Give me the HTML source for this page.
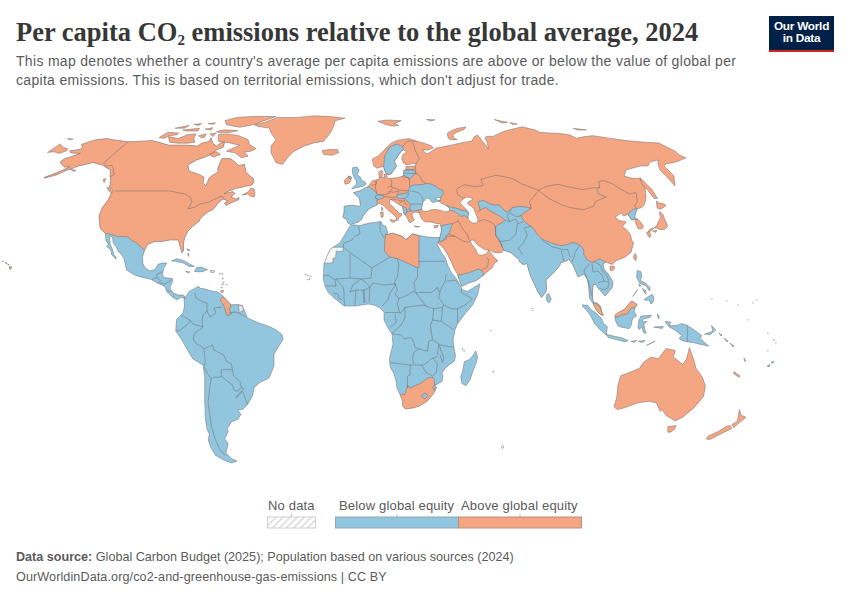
<!DOCTYPE html>
<html><head><meta charset="utf-8">
<style>
html,body{margin:0;padding:0;background:#fff;width:850px;height:600px;overflow:hidden;position:relative}
.t{position:absolute;white-space:nowrap}
#title{left:16px;top:14px;font-family:"Liberation Serif",serif;font-weight:bold;font-size:26.5px;color:#373737;line-height:36px}
#title sub{font-size:15px;vertical-align:baseline;position:relative;top:4px}
.sub{font-family:"Liberation Sans",sans-serif;font-size:14px;letter-spacing:0.31px;color:#5b5b5b;line-height:19px}
#logo{position:absolute;left:769px;top:16px;width:65px;height:35.6px;background:#002147;border-bottom:2.6px solid #ce261e;box-sizing:border-box;color:#fff;font-family:"Liberation Sans",sans-serif;font-weight:bold;font-size:11.8px;line-height:12.3px;text-align:center;padding-top:4.2px;letter-spacing:-0.25px}
.leg{font-family:"Liberation Sans",sans-serif;font-size:13px;letter-spacing:0.17px;color:#5b5b5b}
.foot{font-family:"Liberation Sans",sans-serif;font-size:12.6px;color:#5b5b5b}
svg{position:absolute;left:0;top:0}
.cs{stroke:#6e6e6e;stroke-width:0.5;stroke-linejoin:round}
.bd{stroke:#6e6e6e;stroke-width:0.5;stroke-linejoin:round}
path.cs[fill="none"]{}
</style></head><body>
<div id="title" class="t">Per capita CO<sub>2</sub> emissions relative to the global average, 2024</div>
<div class="t sub" style="left:16px;top:52px">This map denotes whether a country's average per capita emissions are above or below the value of global per</div>
<div class="t sub" style="left:16px;top:71px">capita emissions. This is based on territorial emissions, which don't adjust for trade.</div>
<div id="logo">Our World<br>in Data</div>

<svg width="850" height="600" viewBox="0 0 850 600">
<defs>
<pattern id="hatch" width="5" height="5" patternUnits="userSpaceOnUse" patternTransform="rotate(45)">
<rect width="5" height="5" fill="#fff"/><rect width="1.6" height="5" fill="#dcdcdc"/>
</pattern>
<pattern id="hatch2" width="3" height="3" patternUnits="userSpaceOnUse" patternTransform="rotate(45)"><rect width="3" height="3" fill="#fbfbfb"/><rect width="1" height="3" fill="#ececec"/></pattern>
</defs>
<g id="map">
<!--MAP-->
<clipPath id="c0"><path d="M44.0,177.4 57.0,172.6 66.0,168.6 69.8,166.6 64.5,167.2 61.3,164.0 60.2,161.9 64.5,158.7 72.9,156.0 80.4,153.4 70.8,152.9 69.8,150.8 80.4,149.2 82.5,147.1 81.4,144.4 90.9,141.2 97.3,139.6 106.8,138.6 112.1,139.6 128.0,141.8 145.0,140.9 151.6,140.4 159.1,142.3 168.5,145.1 177.9,145.1 186.4,145.1 197.7,146.1 201.5,143.2 209.0,141.4 210.9,137.6 212.8,143.2 216.5,146.1 220.3,143.2 224.7,141.6 223.3,147.3 216.2,150.1 213.4,153.0 205.0,157.2 196.5,160.0 188.0,165.0 189.0,171.0 198.0,174.0 204.0,177.0 203.0,183.0 206.0,186.0 209.0,178.0 213.0,175.0 218.0,172.0 217.7,168.5 220.5,161.4 221.9,158.6 230.4,158.6 236.0,162.8 238.8,165.6 244.5,164.2 246.0,172.0 250.0,176.0 253.0,178.0 254.0,181.5 252.0,185.0 245.0,186.5 236.0,188.5 229.0,191.0 224.0,193.5 227.0,193.0 233.0,191.5 235.0,193.5 231.0,197.0 236.0,199.0 239.0,197.5 239.0,199.5 232.0,202.5 226.0,205.5 224.5,203.0 228.0,201.0 223.0,199.0 219.0,202.0 216.0,206.0 213.0,209.5 208.0,212.0 204.0,215.0 200.0,219.0 199.5,221.0 192.5,226.5 188.0,231.0 185.0,237.0 183.5,243.0 183.5,250.5 182.0,253.0 179.8,246.0 178.3,240.0 176.0,240.0 170.0,240.0 162.5,241.5 155.0,241.5 147.5,244.5 144.5,250.5 142.7,256.5 142.7,263.1 144.9,267.5 149.3,270.8 154.8,269.7 158.1,264.2 162.5,263.1 166.9,263.1 163.6,268.6 162.5,274.1 163.6,277.4 172.4,278.5 172.4,281.8 170.2,286.2 170.2,289.5 173.5,292.8 177.9,295.0 183.4,295.0 185.6,297.2 188.9,291.7 194.4,288.4 198.8,286.2 199.9,288.4 203.2,288.4 209.8,290.6 215.0,291.7 218.0,292.0 222.0,295.0 231.0,304.8 237.6,304.5 242.5,305.6 244.0,309.7 247.5,318.0 259.0,323.0 268.0,326.0 275.6,329.5 282.0,334.5 283.0,339.4 278.9,346.0 274.0,354.3 274.0,365.8 272.4,370.0 269.0,378.0 259.0,383.0 254.0,388.0 252.5,396.0 247.6,404.6 242.6,409.5 237.7,409.5 241.0,414.5 237.7,419.4 231.0,422.0 229.4,425.9 227.0,428.2 228.2,431.8 224.7,438.8 228.2,443.5 225.9,453.0 231.8,458.8 237.0,461.0 231.8,463.0 224.7,460.6 215.3,455.3 210.6,447.0 208.2,440.0 209.4,434.0 207.0,429.4 205.5,420.0 204.7,401.0 204.7,376.5 203.0,365.0 193.0,359.0 188.0,351.0 181.5,339.4 175.7,331.0 176.5,319.6 183.0,313.0 184.5,306.0 184.0,298.3 181.2,297.2 176.8,300.0 171.3,296.1 166.9,291.7 164.7,286.2 157.0,282.9 151.5,279.6 142.7,277.4 135.0,275.2 126.5,270.0 125.2,264.0 124.0,258.6 121.0,253.8 118.0,251.4 116.8,247.8 113.2,243.0 112.6,237.0 110.2,236.4 109.6,238.8 110.2,244.2 112.6,249.6 113.8,254.4 116.2,257.4 115.6,259.2 114.4,257.4 111.4,254.4 111.4,251.4 109.6,249.0 106.6,246.6 108.4,244.2 106.0,240.6 105.4,233.4 101.0,229.5 100.0,228.0 99.0,216.0 102.0,208.0 108.0,200.0 109.3,197.3 111.3,193.3 113.0,191.0 111.0,188.0 109.3,186.7 110.0,184.7 110.7,180.0 110.0,175.3 110.7,171.3 109.3,169.3 105.3,167.3 103.3,165.3 98.0,164.0 93.3,162.7 90.0,163.3 83.5,165.0 78.2,166.1 70.5,169.2 66.0,170.6 57.0,174.8 44.5,178.2Z"/></clipPath>
<path d="M44.0,177.4 57.0,172.6 66.0,168.6 69.8,166.6 64.5,167.2 61.3,164.0 60.2,161.9 64.5,158.7 72.9,156.0 80.4,153.4 70.8,152.9 69.8,150.8 80.4,149.2 82.5,147.1 81.4,144.4 90.9,141.2 97.3,139.6 106.8,138.6 112.1,139.6 128.0,141.8 145.0,140.9 151.6,140.4 159.1,142.3 168.5,145.1 177.9,145.1 186.4,145.1 197.7,146.1 201.5,143.2 209.0,141.4 210.9,137.6 212.8,143.2 216.5,146.1 220.3,143.2 224.7,141.6 223.3,147.3 216.2,150.1 213.4,153.0 205.0,157.2 196.5,160.0 188.0,165.0 189.0,171.0 198.0,174.0 204.0,177.0 203.0,183.0 206.0,186.0 209.0,178.0 213.0,175.0 218.0,172.0 217.7,168.5 220.5,161.4 221.9,158.6 230.4,158.6 236.0,162.8 238.8,165.6 244.5,164.2 246.0,172.0 250.0,176.0 253.0,178.0 254.0,181.5 252.0,185.0 245.0,186.5 236.0,188.5 229.0,191.0 224.0,193.5 227.0,193.0 233.0,191.5 235.0,193.5 231.0,197.0 236.0,199.0 239.0,197.5 239.0,199.5 232.0,202.5 226.0,205.5 224.5,203.0 228.0,201.0 223.0,199.0 219.0,202.0 216.0,206.0 213.0,209.5 208.0,212.0 204.0,215.0 200.0,219.0 199.5,221.0 192.5,226.5 188.0,231.0 185.0,237.0 183.5,243.0 183.5,250.5 182.0,253.0 179.8,246.0 178.3,240.0 176.0,240.0 170.0,240.0 162.5,241.5 155.0,241.5 147.5,244.5 144.5,250.5 142.7,256.5 142.7,263.1 144.9,267.5 149.3,270.8 154.8,269.7 158.1,264.2 162.5,263.1 166.9,263.1 163.6,268.6 162.5,274.1 163.6,277.4 172.4,278.5 172.4,281.8 170.2,286.2 170.2,289.5 173.5,292.8 177.9,295.0 183.4,295.0 185.6,297.2 188.9,291.7 194.4,288.4 198.8,286.2 199.9,288.4 203.2,288.4 209.8,290.6 215.0,291.7 218.0,292.0 222.0,295.0 231.0,304.8 237.6,304.5 242.5,305.6 244.0,309.7 247.5,318.0 259.0,323.0 268.0,326.0 275.6,329.5 282.0,334.5 283.0,339.4 278.9,346.0 274.0,354.3 274.0,365.8 272.4,370.0 269.0,378.0 259.0,383.0 254.0,388.0 252.5,396.0 247.6,404.6 242.6,409.5 237.7,409.5 241.0,414.5 237.7,419.4 231.0,422.0 229.4,425.9 227.0,428.2 228.2,431.8 224.7,438.8 228.2,443.5 225.9,453.0 231.8,458.8 237.0,461.0 231.8,463.0 224.7,460.6 215.3,455.3 210.6,447.0 208.2,440.0 209.4,434.0 207.0,429.4 205.5,420.0 204.7,401.0 204.7,376.5 203.0,365.0 193.0,359.0 188.0,351.0 181.5,339.4 175.7,331.0 176.5,319.6 183.0,313.0 184.5,306.0 184.0,298.3 181.2,297.2 176.8,300.0 171.3,296.1 166.9,291.7 164.7,286.2 157.0,282.9 151.5,279.6 142.7,277.4 135.0,275.2 126.5,270.0 125.2,264.0 124.0,258.6 121.0,253.8 118.0,251.4 116.8,247.8 113.2,243.0 112.6,237.0 110.2,236.4 109.6,238.8 110.2,244.2 112.6,249.6 113.8,254.4 116.2,257.4 115.6,259.2 114.4,257.4 111.4,254.4 111.4,251.4 109.6,249.0 106.6,246.6 108.4,244.2 106.0,240.6 105.4,233.4 101.0,229.5 100.0,228.0 99.0,216.0 102.0,208.0 108.0,200.0 109.3,197.3 111.3,193.3 113.0,191.0 111.0,188.0 109.3,186.7 110.0,184.7 110.7,180.0 110.0,175.3 110.7,171.3 109.3,169.3 105.3,167.3 103.3,165.3 98.0,164.0 93.3,162.7 90.0,163.3 83.5,165.0 78.2,166.1 70.5,169.2 66.0,170.6 57.0,174.8 44.5,178.2Z" fill="#92c5de"/>
<g clip-path="url(#c0)"><path d="M0.0,100.0 300.0,100.0 300.0,260.0 170.0,258.0 150.0,252.0 144.5,250.5 140.0,246.0 135.5,242.3 131.8,240.6 128.2,237.0 124.0,236.4 118.0,236.7 113.8,235.2 109.6,234.0 105.4,233.4 60.0,233.0 0.0,233.0Z" fill="#f4a582" class="bd"/><path d="M222.7,297.0 227.7,298.0 231.0,304.8 229.3,309.7 231.8,313.8 226.9,315.5 225.0,309.0 222.7,304.0 220.0,300.0Z" fill="#f4a582" class="bd"/><path d="M238.4,304.8 242.5,305.6 244.0,309.7 239.2,313.0Z" fill="#e6e6e6" class="bd"/><path d="M128.0,141.8 103.6,162.9" fill="none" class="bd"/><path d="M104.0,163.3 106.0,166.0 112.0,165.3 113.3,168.7 113.3,172.7 114.7,174.0 111.3,176.0 110.5,177.0" fill="none" class="bd"/><path d="M114.5,191.0 170.0,191.0 180.0,193.0 185.0,194.0 190.0,197.0 192.0,202.0 188.0,209.0 195.0,207.0 200.0,204.0 209.0,202.0 217.0,198.0 222.0,196.0 224.0,198.0 224.0,202.0" fill="none" class="bd"/><path d="M151.5,279.6 157.0,277.4 157.0,274.1 162.5,271.9" fill="none" class="bd"/><path d="M157.0,277.4 160.3,280.7 159.2,282.9" fill="none" class="bd"/><path d="M160.3,282.9 164.7,284.0 172.4,279.6" fill="none" class="bd"/><path d="M165.8,290.6 171.3,291.7" fill="none" class="bd"/><path d="M173.5,295.0 173.5,298.3" fill="none" class="bd"/><path d="M184.0,296.0 185.0,299.0" fill="none" class="bd"/><path d="M195.0,293.0 196.0,298.0 203.0,302.0 207.0,303.0 207.0,311.0 210.0,317.0 216.0,313.0 214.0,308.0 222.0,307.0" fill="none" class="bd"/><path d="M207.0,311.0 203.0,315.0 202.0,321.0 203.0,327.0 201.3,328.8 195.0,332.5 193.1,338.8 196.3,343.8 201.3,346.3 203.8,348.8" fill="none" class="bd"/><path d="M181.0,315.0 190.0,320.0 193.0,324.0 200.0,326.0 203.0,327.0" fill="none" class="bd"/><path d="M190.0,320.0 189.0,323.0 183.0,328.0 179.0,331.0 176.0,330.0" fill="none" class="bd"/><path d="M229.0,313.0 235.0,312.0 239.0,313.0 246.0,317.0" fill="none" class="bd"/><path d="M203.8,348.8 205.0,357.5 205.0,363.8 203.8,366.3 207.5,373.8 211.3,378.8" fill="none" class="bd"/><path d="M203.8,348.8 212.5,345.0 213.8,350.0 223.8,355.0 226.3,361.3 231.3,363.8 232.5,370.0" fill="none" class="bd"/><path d="M211.3,378.8 215.0,376.9 218.8,377.5 221.3,376.3 221.3,370.0 227.5,369.4 232.5,370.0" fill="none" class="bd"/><path d="M232.5,370.0 233.8,376.3 240.0,381.3 241.3,387.5 237.5,391.3 233.8,390.0" fill="none" class="bd"/><path d="M221.3,376.3 227.5,381.3 232.5,385.0 233.8,390.0" fill="none" class="bd"/><path d="M211.3,378.8 210.0,386.3 208.8,395.0 208.0,403.0 209.6,412.8 211.3,426.0 214.6,437.6 219.5,449.0 226.0,455.8" fill="none" class="bd"/><path d="M241.3,387.5 243.8,388.8 237.5,395.0 236.0,398.0" fill="none" class="bd"/><path d="M236.0,398.0 242.6,391.4 247.6,404.6" fill="none" class="bd"/></g>
<path d="M44.0,177.4 57.0,172.6 66.0,168.6 69.8,166.6 64.5,167.2 61.3,164.0 60.2,161.9 64.5,158.7 72.9,156.0 80.4,153.4 70.8,152.9 69.8,150.8 80.4,149.2 82.5,147.1 81.4,144.4 90.9,141.2 97.3,139.6 106.8,138.6 112.1,139.6 128.0,141.8 145.0,140.9 151.6,140.4 159.1,142.3 168.5,145.1 177.9,145.1 186.4,145.1 197.7,146.1 201.5,143.2 209.0,141.4 210.9,137.6 212.8,143.2 216.5,146.1 220.3,143.2 224.7,141.6 223.3,147.3 216.2,150.1 213.4,153.0 205.0,157.2 196.5,160.0 188.0,165.0 189.0,171.0 198.0,174.0 204.0,177.0 203.0,183.0 206.0,186.0 209.0,178.0 213.0,175.0 218.0,172.0 217.7,168.5 220.5,161.4 221.9,158.6 230.4,158.6 236.0,162.8 238.8,165.6 244.5,164.2 246.0,172.0 250.0,176.0 253.0,178.0 254.0,181.5 252.0,185.0 245.0,186.5 236.0,188.5 229.0,191.0 224.0,193.5 227.0,193.0 233.0,191.5 235.0,193.5 231.0,197.0 236.0,199.0 239.0,197.5 239.0,199.5 232.0,202.5 226.0,205.5 224.5,203.0 228.0,201.0 223.0,199.0 219.0,202.0 216.0,206.0 213.0,209.5 208.0,212.0 204.0,215.0 200.0,219.0 199.5,221.0 192.5,226.5 188.0,231.0 185.0,237.0 183.5,243.0 183.5,250.5 182.0,253.0 179.8,246.0 178.3,240.0 176.0,240.0 170.0,240.0 162.5,241.5 155.0,241.5 147.5,244.5 144.5,250.5 142.7,256.5 142.7,263.1 144.9,267.5 149.3,270.8 154.8,269.7 158.1,264.2 162.5,263.1 166.9,263.1 163.6,268.6 162.5,274.1 163.6,277.4 172.4,278.5 172.4,281.8 170.2,286.2 170.2,289.5 173.5,292.8 177.9,295.0 183.4,295.0 185.6,297.2 188.9,291.7 194.4,288.4 198.8,286.2 199.9,288.4 203.2,288.4 209.8,290.6 215.0,291.7 218.0,292.0 222.0,295.0 231.0,304.8 237.6,304.5 242.5,305.6 244.0,309.7 247.5,318.0 259.0,323.0 268.0,326.0 275.6,329.5 282.0,334.5 283.0,339.4 278.9,346.0 274.0,354.3 274.0,365.8 272.4,370.0 269.0,378.0 259.0,383.0 254.0,388.0 252.5,396.0 247.6,404.6 242.6,409.5 237.7,409.5 241.0,414.5 237.7,419.4 231.0,422.0 229.4,425.9 227.0,428.2 228.2,431.8 224.7,438.8 228.2,443.5 225.9,453.0 231.8,458.8 237.0,461.0 231.8,463.0 224.7,460.6 215.3,455.3 210.6,447.0 208.2,440.0 209.4,434.0 207.0,429.4 205.5,420.0 204.7,401.0 204.7,376.5 203.0,365.0 193.0,359.0 188.0,351.0 181.5,339.4 175.7,331.0 176.5,319.6 183.0,313.0 184.5,306.0 184.0,298.3 181.2,297.2 176.8,300.0 171.3,296.1 166.9,291.7 164.7,286.2 157.0,282.9 151.5,279.6 142.7,277.4 135.0,275.2 126.5,270.0 125.2,264.0 124.0,258.6 121.0,253.8 118.0,251.4 116.8,247.8 113.2,243.0 112.6,237.0 110.2,236.4 109.6,238.8 110.2,244.2 112.6,249.6 113.8,254.4 116.2,257.4 115.6,259.2 114.4,257.4 111.4,254.4 111.4,251.4 109.6,249.0 106.6,246.6 108.4,244.2 106.0,240.6 105.4,233.4 101.0,229.5 100.0,228.0 99.0,216.0 102.0,208.0 108.0,200.0 109.3,197.3 111.3,193.3 113.0,191.0 111.0,188.0 109.3,186.7 110.0,184.7 110.7,180.0 110.0,175.3 110.7,171.3 109.3,169.3 105.3,167.3 103.3,165.3 98.0,164.0 93.3,162.7 90.0,163.3 83.5,165.0 78.2,166.1 70.5,169.2 66.0,170.6 57.0,174.8 44.5,178.2Z" fill="none" class="cs"/>
<clipPath id="c1"><path d="M350.4,224.8 347.7,222.6 346.6,219.5 342.9,217.4 344.0,212.1 344.0,207.8 344.0,206.2 350.9,205.2 359.4,206.2 360.4,205.2 359.4,198.3 354.6,194.1 353.5,192.5 359.4,190.9 365.7,187.7 368.9,186.1 370.0,184.0 372.2,180.9 377.3,179.6 379.5,178.3 379.0,175.0 378.8,172.0 381.5,170.0 383.0,172.5 382.4,174.5 381.8,177.0 385.5,177.7 390.6,178.3 397.0,177.7 402.0,176.4 403.5,174.8 403.5,170.7 406.0,169.0 406.0,166.5 415.2,166.0 416.0,164.0 412.7,163.6 406.8,164.8 403.5,163.2 401.8,159.0 402.7,154.8 406.8,152.0 403.5,149.8 401.0,151.5 396.0,159.0 394.3,161.5 396.8,165.7 393.5,170.7 391.0,174.0 388.5,174.8 386.0,173.2 384.3,169.8 383.5,166.5 380.2,167.3 376.8,168.2 373.5,165.7 372.3,159.0 378.5,155.7 385.2,149.0 391.0,143.2 397.7,140.3 402.7,139.4 408.5,138.6 414.3,140.3 417.7,141.5 424.3,143.2 431.0,145.7 433.5,147.8 428.0,150.0 422.0,150.0 427.0,154.0 432.0,151.0 436.0,148.0 441.5,147.1 453.0,144.7 464.6,142.2 472.0,141.0 474.0,137.0 477.3,135.0 480.0,138.0 484.0,143.0 488.5,149.0 487.0,142.0 485.0,137.5 486.2,136.4 493.0,136.4 504.0,131.2 522.0,126.8 535.4,130.1 539.9,132.4 560.0,133.5 569.9,134.9 576.5,138.2 584.8,136.5 593.0,135.7 609.5,138.2 626.0,140.6 645.8,142.3 659.0,143.0 675.6,151.4 678.9,154.7 686.0,158.0 676.0,162.0 666.0,164.0 664.0,166.0 670.0,172.0 674.0,176.0 675.0,186.0 668.0,178.0 660.0,170.0 658.0,164.0 658.0,160.0 650.0,162.0 648.0,166.0 640.0,166.0 626.0,170.0 624.0,176.0 632.7,178.3 639.3,178.3 645.1,186.5 645.8,195.0 645.8,199.5 644.3,204.8 641.3,207.8 637.5,208.5 636.0,212.3 634.5,217.5 637.5,219.0 641.3,222.8 643.5,226.5 642.0,228.8 638.3,228.8 636.0,224.3 635.3,220.5 634.5,219.8 631.5,219.8 630.0,217.5 627.8,214.5 623.3,216.0 621.8,213.0 618.8,214.5 615.0,217.5 619.5,220.5 623.3,221.3 626.3,222.0 622.5,226.5 625.5,228.8 628.5,231.8 630.8,235.5 631.5,240.0 633.6,242.6 631.0,252.5 624.5,257.5 616.2,260.8 612.0,264.5 606.0,262.0 603.0,264.0 604.0,269.0 609.0,275.0 613.0,282.0 612.0,288.0 605.0,296.0 598.0,288.0 596.0,285.0 593.5,284.0 593.0,287.0 592.5,292.0 592.5,297.5 593.8,302.5 597.5,303.3 600.5,306.3 602.0,312.3 603.5,315.3 601.3,315.3 597.5,311.5 594.5,307.0 593.0,303.5 589.5,298.0 589.0,291.0 588.5,285.0 587.0,279.0 584.0,274.0 578.0,277.0 573.0,265.0 570.0,261.0 569.0,259.0 566.3,261.0 560.8,262.8 559.9,265.6 554.4,272.0 549.8,276.6 546.1,280.2 546.6,289.4 545.2,293.0 541.6,297.6 537.9,292.1 534.2,283.9 530.6,276.6 528.7,270.2 526.9,263.7 523.2,264.7 519.6,261.9 518.7,259.2 515.0,256.4 511.0,252.7 503.8,250.3 501.5,252.7 494.5,252.7 489.8,250.3 485.2,249.8 481.7,247.8 477.0,244.5 473.5,240.0 470.0,240.5 471.2,243.3 473.5,246.8 475.8,249.2 477.0,252.7 479.3,255.0 482.8,255.0 486.3,253.8 488.7,250.3 489.8,251.5 493.3,256.2 498.0,260.8 494.5,263.2 492.2,267.8 486.3,272.5 482.8,276.0 475.8,280.7 468.8,283.0 461.8,286.5 459.5,280.7 457.2,273.7 453.7,267.8 451.3,262.0 447.8,255.0 444.3,249.2 439.7,244.5 438.5,243.3 437.5,238.5 440.0,237.0 441.4,230.5 440.5,223.9 435.8,223.4 432.0,222.0 425.4,222.0 422.6,220.1 420.7,217.3 420.0,215.0 419.5,213.5 421.0,212.5 418.5,212.5 415.0,212.0 413.0,213.5 411.5,214.0 412.5,216.0 413.5,218.5 414.5,220.0 412.5,221.0 410.5,223.0 409.0,222.0 407.5,218.5 406.0,216.0 405.5,215.0 404.0,214.0 403.0,210.0 402.5,206.5 399.5,205.0 395.7,202.4 391.9,199.9 389.3,199.9 390.0,204.0 394.0,208.0 399.0,213.0 402.0,214.0 401.0,216.0 399.0,217.0 398.0,220.0 396.0,221.0 396.0,217.0 393.0,214.0 388.0,210.0 383.0,205.0 378.0,203.0 377.0,205.0 373.1,206.8 368.9,208.9 366.8,211.5 363.6,215.2 361.5,219.5 358.3,222.1 353.0,223.7Z"/></clipPath>
<path d="M350.4,224.8 347.7,222.6 346.6,219.5 342.9,217.4 344.0,212.1 344.0,207.8 344.0,206.2 350.9,205.2 359.4,206.2 360.4,205.2 359.4,198.3 354.6,194.1 353.5,192.5 359.4,190.9 365.7,187.7 368.9,186.1 370.0,184.0 372.2,180.9 377.3,179.6 379.5,178.3 379.0,175.0 378.8,172.0 381.5,170.0 383.0,172.5 382.4,174.5 381.8,177.0 385.5,177.7 390.6,178.3 397.0,177.7 402.0,176.4 403.5,174.8 403.5,170.7 406.0,169.0 406.0,166.5 415.2,166.0 416.0,164.0 412.7,163.6 406.8,164.8 403.5,163.2 401.8,159.0 402.7,154.8 406.8,152.0 403.5,149.8 401.0,151.5 396.0,159.0 394.3,161.5 396.8,165.7 393.5,170.7 391.0,174.0 388.5,174.8 386.0,173.2 384.3,169.8 383.5,166.5 380.2,167.3 376.8,168.2 373.5,165.7 372.3,159.0 378.5,155.7 385.2,149.0 391.0,143.2 397.7,140.3 402.7,139.4 408.5,138.6 414.3,140.3 417.7,141.5 424.3,143.2 431.0,145.7 433.5,147.8 428.0,150.0 422.0,150.0 427.0,154.0 432.0,151.0 436.0,148.0 441.5,147.1 453.0,144.7 464.6,142.2 472.0,141.0 474.0,137.0 477.3,135.0 480.0,138.0 484.0,143.0 488.5,149.0 487.0,142.0 485.0,137.5 486.2,136.4 493.0,136.4 504.0,131.2 522.0,126.8 535.4,130.1 539.9,132.4 560.0,133.5 569.9,134.9 576.5,138.2 584.8,136.5 593.0,135.7 609.5,138.2 626.0,140.6 645.8,142.3 659.0,143.0 675.6,151.4 678.9,154.7 686.0,158.0 676.0,162.0 666.0,164.0 664.0,166.0 670.0,172.0 674.0,176.0 675.0,186.0 668.0,178.0 660.0,170.0 658.0,164.0 658.0,160.0 650.0,162.0 648.0,166.0 640.0,166.0 626.0,170.0 624.0,176.0 632.7,178.3 639.3,178.3 645.1,186.5 645.8,195.0 645.8,199.5 644.3,204.8 641.3,207.8 637.5,208.5 636.0,212.3 634.5,217.5 637.5,219.0 641.3,222.8 643.5,226.5 642.0,228.8 638.3,228.8 636.0,224.3 635.3,220.5 634.5,219.8 631.5,219.8 630.0,217.5 627.8,214.5 623.3,216.0 621.8,213.0 618.8,214.5 615.0,217.5 619.5,220.5 623.3,221.3 626.3,222.0 622.5,226.5 625.5,228.8 628.5,231.8 630.8,235.5 631.5,240.0 633.6,242.6 631.0,252.5 624.5,257.5 616.2,260.8 612.0,264.5 606.0,262.0 603.0,264.0 604.0,269.0 609.0,275.0 613.0,282.0 612.0,288.0 605.0,296.0 598.0,288.0 596.0,285.0 593.5,284.0 593.0,287.0 592.5,292.0 592.5,297.5 593.8,302.5 597.5,303.3 600.5,306.3 602.0,312.3 603.5,315.3 601.3,315.3 597.5,311.5 594.5,307.0 593.0,303.5 589.5,298.0 589.0,291.0 588.5,285.0 587.0,279.0 584.0,274.0 578.0,277.0 573.0,265.0 570.0,261.0 569.0,259.0 566.3,261.0 560.8,262.8 559.9,265.6 554.4,272.0 549.8,276.6 546.1,280.2 546.6,289.4 545.2,293.0 541.6,297.6 537.9,292.1 534.2,283.9 530.6,276.6 528.7,270.2 526.9,263.7 523.2,264.7 519.6,261.9 518.7,259.2 515.0,256.4 511.0,252.7 503.8,250.3 501.5,252.7 494.5,252.7 489.8,250.3 485.2,249.8 481.7,247.8 477.0,244.5 473.5,240.0 470.0,240.5 471.2,243.3 473.5,246.8 475.8,249.2 477.0,252.7 479.3,255.0 482.8,255.0 486.3,253.8 488.7,250.3 489.8,251.5 493.3,256.2 498.0,260.8 494.5,263.2 492.2,267.8 486.3,272.5 482.8,276.0 475.8,280.7 468.8,283.0 461.8,286.5 459.5,280.7 457.2,273.7 453.7,267.8 451.3,262.0 447.8,255.0 444.3,249.2 439.7,244.5 438.5,243.3 437.5,238.5 440.0,237.0 441.4,230.5 440.5,223.9 435.8,223.4 432.0,222.0 425.4,222.0 422.6,220.1 420.7,217.3 420.0,215.0 419.5,213.5 421.0,212.5 418.5,212.5 415.0,212.0 413.0,213.5 411.5,214.0 412.5,216.0 413.5,218.5 414.5,220.0 412.5,221.0 410.5,223.0 409.0,222.0 407.5,218.5 406.0,216.0 405.5,215.0 404.0,214.0 403.0,210.0 402.5,206.5 399.5,205.0 395.7,202.4 391.9,199.9 389.3,199.9 390.0,204.0 394.0,208.0 399.0,213.0 402.0,214.0 401.0,216.0 399.0,217.0 398.0,220.0 396.0,221.0 396.0,217.0 393.0,214.0 388.0,210.0 383.0,205.0 378.0,203.0 377.0,205.0 373.1,206.8 368.9,208.9 366.8,211.5 363.6,215.2 361.5,219.5 358.3,222.1 353.0,223.7Z" fill="#f4a582"/>
<g clip-path="url(#c1)"><path d="M330.0,180.0 353.5,192.5 368.9,186.1 368.4,186.0 371.0,188.5 374.1,190.4 376.7,193.5 378.6,194.8 376.0,196.1 376.0,198.6 378.6,199.2 376.7,200.5 377.5,203.0 377.0,205.0 370.0,215.0 355.0,235.0 330.0,235.0Z" fill="#92c5de" class="bd"/><path d="M375.4,196.1 378.6,194.8 383.0,195.4 384.3,197.3 381.7,198.6 378.6,199.2 376.0,198.6Z" fill="#92c5de" class="bd"/><path d="M383.5,166.5 384.8,155.7 390.2,146.5 397.7,144.0 402.7,146.5 403.5,149.8 401.0,151.5 396.0,159.0 394.3,161.5 396.8,165.7 393.5,170.7 391.0,174.0 388.5,174.8 386.0,173.2 384.3,169.8Z" fill="#92c5de" class="bd"/><path d="M409.6,186.6 413.0,185.0 422.0,184.5 426.0,183.5 431.0,184.0 436.0,186.5 439.0,189.0 442.7,190.0 443.3,194.3 441.1,196.4 440.6,198.0 440.6,200.1 439.5,201.2 430.0,206.0 425.0,210.0 421.0,209.5 418.5,210.0 414.0,211.0 410.5,211.0 406.5,212.0 405.5,215.0 404.0,215.5 402.3,210.0 402.3,206.5 405.0,207.0 406.5,209.5 410.0,209.0 410.0,208.0 410.3,204.3 408.0,202.0 405.0,198.7 399.5,198.6 397.0,197.3 397.0,194.8 403.3,193.5 407.7,192.9 408.4,191.0 409.6,186.6Z" fill="#92c5de" class="bd"/><path d="M403.5,170.7 407.7,169.8 414.3,169.8 416.0,173.2 412.7,175.7 410.2,179.0 406.0,176.5 403.5,174.8 400.0,173.0Z" fill="#92c5de" class="bd"/><path d="M447.0,205.5 452.0,207.4 455.2,208.0 458.9,209.0 462.7,210.6 465.9,210.6 469.0,213.3 468.0,217.5 466.4,217.0 464.3,215.4 461.1,216.5 458.4,214.3 455.2,211.7 452.0,210.6 447.0,210.0Z" fill="#92c5de" class="bd"/><path d="M440.8,225.8 452.5,223.5 449.0,234.0 445.5,236.3 446.7,238.7 442.0,241.0 440.8,242.2 439.0,241.0 441.0,230.0Z" fill="#92c5de" class="bd"/><path d="M459.0,274.0 460.7,274.8 470.0,272.5 478.2,269.0 482.8,271.3 484.0,276.0 486.0,285.0 455.0,292.0Z" fill="#92c5de" class="bd"/><path d="M478.2,201.6 483.0,200.2 489.5,203.5 494.0,205.0 498.7,205.0 502.0,207.7 504.0,210.3 507.3,212.3 512.0,207.7 516.7,207.0 519.3,206.3 526.0,207.0 531.3,208.3 526.0,211.7 521.3,215.0 522.0,217.7 523.3,220.3 525.3,222.3 530.0,225.7 534.0,229.0 536.7,233.7 541.3,238.8 550.0,242.5 557.5,245.0 562.5,245.6 567.5,244.4 572.5,242.5 577.5,243.8 581.3,246.3 583.8,250.0 583.8,255.0 587.5,260.0 592.5,262.5 597.5,260.0 600.0,259.0 606.0,262.0 606.0,264.0 620.0,275.0 620.0,320.0 500.0,320.0 503.8,250.3 502.7,248.0 500.3,242.2 495.7,235.2 495.3,227.0 497.3,225.0 501.3,223.0 505.3,220.3 500.0,216.3 495.3,213.7 490.0,211.0 485.8,207.3 480.1,210.1Z" fill="#92c5de" class="bd"/><path d="M627.8,214.5 633.0,209.3 637.5,208.5 642.0,210.0 640.0,216.0 637.5,219.0 634.5,219.8 631.5,219.8 630.0,217.5Z" fill="#92c5de" class="bd"/><path d="M594.7,302.8 599.6,306.1 603.8,315.2 600.4,315.2 595.5,309.4 593.0,304.5Z" fill="#f4a582" class="bd"/><path d="M371.6,185.3 376.7,184.0 376.0,180.9 377.3,179.6" fill="none" class="bd"/><path d="M376.0,180.9 375.4,187.8 376.7,193.5" fill="none" class="bd"/><path d="M378.6,194.8 383.0,194.8 389.3,193.5 389.3,191.6" fill="none" class="bd"/><path d="M387.4,187.2 391.2,186.0 392.5,188.5 389.3,191.6" fill="none" class="bd"/><path d="M390.6,179.0 391.9,182.8 391.2,186.0" fill="none" class="bd"/><path d="M392.5,187.2 398.2,189.7 402.0,190.4 408.4,191.0" fill="none" class="bd"/><path d="M389.3,191.6 393.8,192.3 398.9,191.0" fill="none" class="bd"/><path d="M398.9,191.0 397.0,194.8" fill="none" class="bd"/><path d="M383.0,196.1 389.3,197.3 395.7,197.3 397.0,197.3" fill="none" class="bd"/><path d="M390.6,199.2 394.4,199.2 397.0,199.9" fill="none" class="bd"/><path d="M397.0,199.9 402.0,201.2 404.6,200.5 405.2,203.7 407.7,205.0" fill="none" class="bd"/><path d="M399.0,203.5 402.0,201.2" fill="none" class="bd"/><path d="M402.0,176.4 408.4,177.7 409.6,181.5 409.6,186.6" fill="none" class="bd"/><path d="M379.2,177.1 381.5,177.1" fill="none" class="bd"/><path d="M416.0,173.2 420.0,176.0 422.0,181.0 426.0,183.5" fill="none" class="bd"/><path d="M406.0,169.8 414.3,169.8" fill="none" class="bd"/><path d="M404.0,173.0 412.0,173.5 416.0,173.2" fill="none" class="bd"/><path d="M415.2,166.0 415.5,170.0 416.0,173.2" fill="none" class="bd"/><path d="M412.7,142.3 415.2,150.7 419.3,158.2 416.0,164.0" fill="none" class="bd"/><path d="M402.7,146.5 406.0,142.0 410.0,141.0 414.0,141.0 417.7,141.5" fill="none" class="bd"/><path d="M410.0,191.0 414.0,191.5 418.0,192.5 421.0,195.0 423.0,199.0 423.0,203.0" fill="none" class="bd"/><path d="M408.4,192.9 408.0,196.0 405.2,198.6" fill="none" class="bd"/><path d="M410.3,204.3 415.0,204.0 422.0,204.0" fill="none" class="bd"/><path d="M418.5,210.0 419.5,213.5" fill="none" class="bd"/><path d="M406.5,209.5 406.5,212.0" fill="none" class="bd"/><path d="M410.0,209.0 410.5,211.0" fill="none" class="bd"/><path d="M456.6,189.4 458.5,187.5 464.1,184.7 474.5,186.6 483.0,185.6 481.0,179.3 496.0,175.2 512.5,178.5 522.4,184.3 525.0,185.0 538.5,190.3" fill="none" class="bd"/><path d="M456.6,189.4 457.5,194.1 462.2,197.9 465.0,197.9" fill="none" class="bd"/><path d="M538.5,190.3 534.0,196.3 529.5,201.5 531.0,207.5 529.0,208.2" fill="none" class="bd"/><path d="M538.5,190.3 546.0,186.5 558.0,184.3 567.0,186.5 582.0,189.5 592.5,188.0 600.0,187.3 598.5,182.0 603.0,180.5 612.0,183.5 621.0,189.5 630.0,194.0 636.0,192.5 637.5,201.5 634.5,206.0 636.0,208.0" fill="none" class="bd"/><path d="M538.5,190.3 549.0,198.5 561.0,204.5 570.0,207.5 583.5,209.8 594.0,206.0 595.5,201.5 606.0,197.0 598.5,194.0 597.0,189.5 600.0,187.3" fill="none" class="bd"/><path d="M477.3,212.0 480.1,210.1" fill="none" class="bd"/><path d="M478.2,221.4 483.9,219.5 490.0,221.7 494.0,224.3 495.3,227.0" fill="none" class="bd"/><path d="M505.3,220.3 510.0,221.7 515.3,219.0 517.3,221.7 518.7,223.7 522.7,221.7" fill="none" class="bd"/><path d="M517.3,223.0 516.7,229.7 515.3,235.0 513.3,236.4 509.4,240.3 499.1,241.6" fill="none" class="bd"/><path d="M510.0,213.0 515.3,216.3 519.3,216.3 521.3,215.0" fill="none" class="bd"/><path d="M512.0,208.3 509.3,212.3 507.3,216.3 508.7,219.0 510.0,221.7" fill="none" class="bd"/><path d="M523.3,228.3 527.3,227.0 531.3,226.3" fill="none" class="bd"/><path d="M524.7,229.7 527.3,235.0 523.6,242.9 518.5,248.1 522.4,254.5" fill="none" class="bd"/><path d="M541.8,240.3 552.1,246.8 562.5,249.4" fill="none" class="bd"/><path d="M561.2,250.6 563.8,261.0" fill="none" class="bd"/><path d="M570.2,257.1 567.6,249.4 562.5,249.4" fill="none" class="bd"/><path d="M579.3,245.5 575.4,252.0 572.8,259.7 572.0,262.0" fill="none" class="bd"/><path d="M590.0,263.5 584.5,269.0 584.0,272.0 586.5,277.0 589.0,283.0 590.0,288.0 592.0,296.0" fill="none" class="bd"/><path d="M592.0,263.5 593.0,272.0 598.0,271.0 602.0,275.0 604.0,281.0" fill="none" class="bd"/><path d="M593.0,261.0 600.0,265.0 602.0,270.0 607.0,276.0 609.0,281.0" fill="none" class="bd"/><path d="M598.0,283.0 604.0,281.0 609.0,282.0 608.0,288.0 604.0,290.0 600.0,288.0" fill="none" class="bd"/><path d="M458.3,221.2 463.0,229.3 467.7,235.2 468.8,239.8" fill="none" class="bd"/><path d="M440.8,242.2 446.7,236.3 454.8,236.3 463.0,241.0 467.7,242.2 470.0,241.0" fill="none" class="bd"/><path d="M452.5,223.5 458.3,221.2 457.4,221.0" fill="none" class="bd"/><path d="M449.0,234.0 454.8,236.3" fill="none" class="bd"/><path d="M481.7,270.2 487.5,266.7 488.7,259.7 486.3,257.3" fill="none" class="bd"/><path d="M495.7,227.0 495.7,235.2 500.3,242.2 502.7,248.0" fill="none" class="bd"/></g>
<path d="M350.4,224.8 347.7,222.6 346.6,219.5 342.9,217.4 344.0,212.1 344.0,207.8 344.0,206.2 350.9,205.2 359.4,206.2 360.4,205.2 359.4,198.3 354.6,194.1 353.5,192.5 359.4,190.9 365.7,187.7 368.9,186.1 370.0,184.0 372.2,180.9 377.3,179.6 379.5,178.3 379.0,175.0 378.8,172.0 381.5,170.0 383.0,172.5 382.4,174.5 381.8,177.0 385.5,177.7 390.6,178.3 397.0,177.7 402.0,176.4 403.5,174.8 403.5,170.7 406.0,169.0 406.0,166.5 415.2,166.0 416.0,164.0 412.7,163.6 406.8,164.8 403.5,163.2 401.8,159.0 402.7,154.8 406.8,152.0 403.5,149.8 401.0,151.5 396.0,159.0 394.3,161.5 396.8,165.7 393.5,170.7 391.0,174.0 388.5,174.8 386.0,173.2 384.3,169.8 383.5,166.5 380.2,167.3 376.8,168.2 373.5,165.7 372.3,159.0 378.5,155.7 385.2,149.0 391.0,143.2 397.7,140.3 402.7,139.4 408.5,138.6 414.3,140.3 417.7,141.5 424.3,143.2 431.0,145.7 433.5,147.8 428.0,150.0 422.0,150.0 427.0,154.0 432.0,151.0 436.0,148.0 441.5,147.1 453.0,144.7 464.6,142.2 472.0,141.0 474.0,137.0 477.3,135.0 480.0,138.0 484.0,143.0 488.5,149.0 487.0,142.0 485.0,137.5 486.2,136.4 493.0,136.4 504.0,131.2 522.0,126.8 535.4,130.1 539.9,132.4 560.0,133.5 569.9,134.9 576.5,138.2 584.8,136.5 593.0,135.7 609.5,138.2 626.0,140.6 645.8,142.3 659.0,143.0 675.6,151.4 678.9,154.7 686.0,158.0 676.0,162.0 666.0,164.0 664.0,166.0 670.0,172.0 674.0,176.0 675.0,186.0 668.0,178.0 660.0,170.0 658.0,164.0 658.0,160.0 650.0,162.0 648.0,166.0 640.0,166.0 626.0,170.0 624.0,176.0 632.7,178.3 639.3,178.3 645.1,186.5 645.8,195.0 645.8,199.5 644.3,204.8 641.3,207.8 637.5,208.5 636.0,212.3 634.5,217.5 637.5,219.0 641.3,222.8 643.5,226.5 642.0,228.8 638.3,228.8 636.0,224.3 635.3,220.5 634.5,219.8 631.5,219.8 630.0,217.5 627.8,214.5 623.3,216.0 621.8,213.0 618.8,214.5 615.0,217.5 619.5,220.5 623.3,221.3 626.3,222.0 622.5,226.5 625.5,228.8 628.5,231.8 630.8,235.5 631.5,240.0 633.6,242.6 631.0,252.5 624.5,257.5 616.2,260.8 612.0,264.5 606.0,262.0 603.0,264.0 604.0,269.0 609.0,275.0 613.0,282.0 612.0,288.0 605.0,296.0 598.0,288.0 596.0,285.0 593.5,284.0 593.0,287.0 592.5,292.0 592.5,297.5 593.8,302.5 597.5,303.3 600.5,306.3 602.0,312.3 603.5,315.3 601.3,315.3 597.5,311.5 594.5,307.0 593.0,303.5 589.5,298.0 589.0,291.0 588.5,285.0 587.0,279.0 584.0,274.0 578.0,277.0 573.0,265.0 570.0,261.0 569.0,259.0 566.3,261.0 560.8,262.8 559.9,265.6 554.4,272.0 549.8,276.6 546.1,280.2 546.6,289.4 545.2,293.0 541.6,297.6 537.9,292.1 534.2,283.9 530.6,276.6 528.7,270.2 526.9,263.7 523.2,264.7 519.6,261.9 518.7,259.2 515.0,256.4 511.0,252.7 503.8,250.3 501.5,252.7 494.5,252.7 489.8,250.3 485.2,249.8 481.7,247.8 477.0,244.5 473.5,240.0 470.0,240.5 471.2,243.3 473.5,246.8 475.8,249.2 477.0,252.7 479.3,255.0 482.8,255.0 486.3,253.8 488.7,250.3 489.8,251.5 493.3,256.2 498.0,260.8 494.5,263.2 492.2,267.8 486.3,272.5 482.8,276.0 475.8,280.7 468.8,283.0 461.8,286.5 459.5,280.7 457.2,273.7 453.7,267.8 451.3,262.0 447.8,255.0 444.3,249.2 439.7,244.5 438.5,243.3 437.5,238.5 440.0,237.0 441.4,230.5 440.5,223.9 435.8,223.4 432.0,222.0 425.4,222.0 422.6,220.1 420.7,217.3 420.0,215.0 419.5,213.5 421.0,212.5 418.5,212.5 415.0,212.0 413.0,213.5 411.5,214.0 412.5,216.0 413.5,218.5 414.5,220.0 412.5,221.0 410.5,223.0 409.0,222.0 407.5,218.5 406.0,216.0 405.5,215.0 404.0,214.0 403.0,210.0 402.5,206.5 399.5,205.0 395.7,202.4 391.9,199.9 389.3,199.9 390.0,204.0 394.0,208.0 399.0,213.0 402.0,214.0 401.0,216.0 399.0,217.0 398.0,220.0 396.0,221.0 396.0,217.0 393.0,214.0 388.0,210.0 383.0,205.0 378.0,203.0 377.0,205.0 373.1,206.8 368.9,208.9 366.8,211.5 363.6,215.2 361.5,219.5 358.3,222.1 353.0,223.7Z" fill="none" class="cs"/>
<clipPath id="c2"><path d="M353.0,224.8 359.6,225.6 369.5,223.0 381.0,221.5 382.7,224.8 386.0,226.4 387.7,233.0 385.2,234.7 392.6,233.0 402.5,236.3 405.8,239.6 412.5,233.8 419.0,235.5 428.2,237.1 437.6,237.5 440.0,238.0 439.0,241.0 438.0,243.5 437.3,244.5 440.8,251.5 445.5,258.5 447.8,265.5 451.3,272.5 456.0,278.3 459.5,284.2 462.5,290.0 467.5,291.3 480.0,283.8 477.5,295.0 472.5,305.0 465.0,313.8 457.5,323.8 455.0,330.0 453.0,340.0 454.0,348.0 455.5,356.0 454.4,361.0 445.9,367.5 442.0,373.0 443.0,377.0 442.0,381.6 434.6,385.4 436.5,387.3 435.5,390.0 432.7,394.8 427.0,401.4 419.5,406.0 413.0,408.0 405.4,409.0 402.6,406.0 402.6,401.4 399.8,393.9 397.0,388.0 396.0,380.7 394.1,374.0 390.4,367.5 389.4,360.0 390.0,356.0 393.0,344.0 392.0,334.0 388.0,328.0 384.0,320.0 384.0,312.0 380.0,308.0 374.0,305.0 368.0,304.0 356.0,306.0 344.0,306.0 334.0,298.0 328.0,292.0 325.0,285.9 323.3,279.0 324.0,263.6 325.0,261.0 329.9,249.5 334.9,246.0 339.8,243.0 344.8,234.7 349.7,226.4Z"/></clipPath>
<path d="M353.0,224.8 359.6,225.6 369.5,223.0 381.0,221.5 382.7,224.8 386.0,226.4 387.7,233.0 385.2,234.7 392.6,233.0 402.5,236.3 405.8,239.6 412.5,233.8 419.0,235.5 428.2,237.1 437.6,237.5 440.0,238.0 439.0,241.0 438.0,243.5 437.3,244.5 440.8,251.5 445.5,258.5 447.8,265.5 451.3,272.5 456.0,278.3 459.5,284.2 462.5,290.0 467.5,291.3 480.0,283.8 477.5,295.0 472.5,305.0 465.0,313.8 457.5,323.8 455.0,330.0 453.0,340.0 454.0,348.0 455.5,356.0 454.4,361.0 445.9,367.5 442.0,373.0 443.0,377.0 442.0,381.6 434.6,385.4 436.5,387.3 435.5,390.0 432.7,394.8 427.0,401.4 419.5,406.0 413.0,408.0 405.4,409.0 402.6,406.0 402.6,401.4 399.8,393.9 397.0,388.0 396.0,380.7 394.1,374.0 390.4,367.5 389.4,360.0 390.0,356.0 393.0,344.0 392.0,334.0 388.0,328.0 384.0,320.0 384.0,312.0 380.0,308.0 374.0,305.0 368.0,304.0 356.0,306.0 344.0,306.0 334.0,298.0 328.0,292.0 325.0,285.9 323.3,279.0 324.0,263.6 325.0,261.0 329.9,249.5 334.9,246.0 339.8,243.0 344.8,234.7 349.7,226.4Z" fill="#92c5de"/>
<g clip-path="url(#c2)"><path d="M385.2,234.7 392.6,233.0 402.5,236.3 405.8,239.6 412.5,233.8 419.0,235.5 419.0,267.7 417.4,267.7 397.6,258.6 389.3,257.0 384.4,251.0Z" fill="#f4a582" class="bd"/><path d="M333.2,247.2 343.0,247.2 343.0,251.2 336.2,251.2 335.6,258.0 333.0,258.2 332.8,263.0 320.0,263.2 320.0,247.2Z" fill="url(#hatch2)" class="bd"/><path d="M395.0,393.0 399.8,393.9 404.5,394.8 408.0,385.4 409.2,388.0 415.8,385.4 420.5,383.5 424.2,380.7 428.0,377.9 432.7,377.4 434.1,378.8 434.6,384.5 440.0,387.0 440.0,420.0 390.0,420.0Z" fill="#f4a582" class="bd"/><path d="M421.5,396.5 424.5,393.0 428.0,395.5 425.0,399.0Z" fill="#92c5de" class="bd"/><path d="M433.0,386.5 435.0,385.5 436.5,387.5 435.5,390.0 433.5,389.5Z" fill="#92c5de" class="bd"/><path d="M343.0,247.0 344.0,243.0 352.0,240.0 355.0,236.0 360.0,234.0 359.0,228.0 358.0,226.0" fill="none" class="bd"/><path d="M343.0,247.0 352.0,254.0 372.0,268.0 390.0,257.0" fill="none" class="bd"/><path d="M380.0,222.0 380.0,231.0 384.0,238.0" fill="none" class="bd"/><path d="M350.0,254.0 350.0,278.0 336.0,279.0 335.0,280.0 336.0,286.0" fill="none" class="bd"/><path d="M323.0,276.0 328.0,275.0 335.0,280.0" fill="none" class="bd"/><path d="M325.0,286.0 336.0,286.0" fill="none" class="bd"/><path d="M336.0,279.0 343.0,287.0 344.0,292.0 344.0,298.0 345.0,307.0" fill="none" class="bd"/><path d="M350.0,278.0 361.0,279.0 371.0,278.0 372.0,268.0" fill="none" class="bd"/><path d="M350.0,292.0 353.0,285.0 361.0,279.0 364.0,281.0 370.0,287.0 365.0,290.0 356.0,290.0 350.0,292.0" fill="none" class="bd"/><path d="M370.0,287.0 373.0,283.0 384.0,285.0 394.0,284.0 396.0,284.0" fill="none" class="bd"/><path d="M397.5,258.8 398.8,265.0 397.5,276.3 395.0,281.3 394.0,284.0" fill="none" class="bd"/><path d="M370.0,287.0 369.0,302.0" fill="none" class="bd"/><path d="M364.0,290.0 365.0,303.0" fill="none" class="bd"/><path d="M363.0,290.0 364.0,303.0" fill="none" class="bd"/><path d="M356.0,290.0 355.0,305.0" fill="none" class="bd"/><path d="M333.0,293.0 338.0,294.0 339.0,298.0 342.0,300.0" fill="none" class="bd"/><path d="M396.0,284.0 390.0,293.0 388.0,300.0 382.0,306.0" fill="none" class="bd"/><path d="M395.0,283.8 397.5,290.0 395.0,293.8 398.8,298.8 405.0,296.3 413.8,291.3 417.5,295.0" fill="none" class="bd"/><path d="M417.5,267.7 417.5,277.5 413.8,282.5 415.0,290.0 417.5,295.0" fill="none" class="bd"/><path d="M418.8,261.3 445.0,261.3" fill="none" class="bd"/><path d="M398.8,298.8 397.5,303.8 398.8,310.0 400.0,313.8 405.0,307.5 412.5,306.3 423.8,305.0 426.3,306.3" fill="none" class="bd"/><path d="M417.5,295.0 426.3,306.3" fill="none" class="bd"/><path d="M417.5,292.5 425.0,292.5 431.3,292.5 437.5,287.5 438.8,291.3 440.0,291.3" fill="none" class="bd"/><path d="M446.3,273.8 445.0,281.3 440.0,291.3 438.8,297.5 443.8,305.0 451.3,308.8 457.5,308.8" fill="none" class="bd"/><path d="M446.3,281.3 455.0,280.0 461.3,286.3" fill="none" class="bd"/><path d="M461.3,287.5 461.3,292.5 472.5,298.8 465.0,305.0 457.5,308.8 457.5,323.8" fill="none" class="bd"/><path d="M426.3,306.3 433.8,308.8 442.5,307.5 443.8,305.0" fill="none" class="bd"/><path d="M442.5,307.5 441.3,321.3 453.8,330.0" fill="none" class="bd"/><path d="M433.8,308.8 432.5,320.0 430.5,325.0 431.3,332.0 432.5,340.0" fill="none" class="bd"/><path d="M432.5,320.0 441.3,321.3" fill="none" class="bd"/><path d="M405.0,307.5 405.0,317.5 401.3,325.0 391.3,333.8" fill="none" class="bd"/><path d="M385.0,312.5 398.8,312.5" fill="none" class="bd"/><path d="M395.0,313.8 396.3,322.5 390.0,327.5" fill="none" class="bd"/><path d="M391.3,333.8 401.3,335.0 403.8,338.8 411.3,337.5 413.8,342.5 415.0,347.5 418.8,348.8 427.5,351.3 428.8,341.3 432.5,340.0 438.8,343.8 437.5,355.0" fill="none" class="bd"/><path d="M418.8,348.8 413.8,352.5 412.5,358.8 413.8,363.8" fill="none" class="bd"/><path d="M390.0,362.5 410.0,365.0 416.3,365.0 423.8,365.0 431.3,358.8 437.5,356.3" fill="none" class="bd"/><path d="M440.0,345.0 455.0,347.5" fill="none" class="bd"/><path d="M438.8,343.8 441.3,351.3 443.8,357.5 442.5,362.5 440.0,355.0" fill="none" class="bd"/><path d="M432.5,357.5 437.5,363.8 436.3,372.5 432.5,376.3" fill="none" class="bd"/><path d="M410.0,365.0 410.0,375.0 407.5,376.3 407.5,387.5" fill="none" class="bd"/><path d="M421.3,365.0 426.3,372.5 432.5,376.3" fill="none" class="bd"/></g>
<path d="M353.0,224.8 359.6,225.6 369.5,223.0 381.0,221.5 382.7,224.8 386.0,226.4 387.7,233.0 385.2,234.7 392.6,233.0 402.5,236.3 405.8,239.6 412.5,233.8 419.0,235.5 428.2,237.1 437.6,237.5 440.0,238.0 439.0,241.0 438.0,243.5 437.3,244.5 440.8,251.5 445.5,258.5 447.8,265.5 451.3,272.5 456.0,278.3 459.5,284.2 462.5,290.0 467.5,291.3 480.0,283.8 477.5,295.0 472.5,305.0 465.0,313.8 457.5,323.8 455.0,330.0 453.0,340.0 454.0,348.0 455.5,356.0 454.4,361.0 445.9,367.5 442.0,373.0 443.0,377.0 442.0,381.6 434.6,385.4 436.5,387.3 435.5,390.0 432.7,394.8 427.0,401.4 419.5,406.0 413.0,408.0 405.4,409.0 402.6,406.0 402.6,401.4 399.8,393.9 397.0,388.0 396.0,380.7 394.1,374.0 390.4,367.5 389.4,360.0 390.0,356.0 393.0,344.0 392.0,334.0 388.0,328.0 384.0,320.0 384.0,312.0 380.0,308.0 374.0,305.0 368.0,304.0 356.0,306.0 344.0,306.0 334.0,298.0 328.0,292.0 325.0,285.9 323.3,279.0 324.0,263.6 325.0,261.0 329.9,249.5 334.9,246.0 339.8,243.0 344.8,234.7 349.7,226.4Z" fill="none" class="cs"/>
<clipPath id="c3"><path d="M614.1,406.8 616.9,396.5 617.9,385.2 620.7,375.8 628.2,373.0 639.5,368.2 643.3,362.6 650.8,357.0 658.4,358.8 665.9,348.5 675.3,350.4 673.4,357.0 682.8,364.5 686.6,358.8 689.4,347.5 694.1,360.7 696.0,368.2 702.6,377.6 705.4,386.1 703.5,396.5 694.1,407.8 682.8,417.2 675.3,421.0 665.9,415.3 662.1,409.6 660.2,411.5 656.5,403.0 648.9,401.2 637.6,403.0 624.5,407.8 616.9,409.6Z"/></clipPath>
<path d="M614.1,406.8 616.9,396.5 617.9,385.2 620.7,375.8 628.2,373.0 639.5,368.2 643.3,362.6 650.8,357.0 658.4,358.8 665.9,348.5 675.3,350.4 673.4,357.0 682.8,364.5 686.6,358.8 689.4,347.5 694.1,360.7 696.0,368.2 702.6,377.6 705.4,386.1 703.5,396.5 694.1,407.8 682.8,417.2 675.3,421.0 665.9,415.3 662.1,409.6 660.2,411.5 656.5,403.0 648.9,401.2 637.6,403.0 624.5,407.8 616.9,409.6Z" fill="#f4a582"/>
<path d="M614.1,406.8 616.9,396.5 617.9,385.2 620.7,375.8 628.2,373.0 639.5,368.2 643.3,362.6 650.8,357.0 658.4,358.8 665.9,348.5 675.3,350.4 673.4,357.0 682.8,364.5 686.6,358.8 689.4,347.5 694.1,360.7 696.0,368.2 702.6,377.6 705.4,386.1 703.5,396.5 694.1,407.8 682.8,417.2 675.3,421.0 665.9,415.3 662.1,409.6 660.2,411.5 656.5,403.0 648.9,401.2 637.6,403.0 624.5,407.8 616.9,409.6Z" fill="none" class="cs"/>
<clipPath id="c4"><path d="M615.5,314.5 620.0,311.5 624.5,309.3 627.5,305.5 631.3,301.0 633.5,301.8 637.3,304.8 635.0,307.8 634.3,311.5 636.5,316.0 633.5,317.5 632.0,320.5 631.3,325.0 629.0,328.8 626.0,328.0 621.5,327.3 617.8,325.8 615.5,320.5 614.8,316.8Z"/></clipPath>
<path d="M615.5,314.5 620.0,311.5 624.5,309.3 627.5,305.5 631.3,301.0 633.5,301.8 637.3,304.8 635.0,307.8 634.3,311.5 636.5,316.0 633.5,317.5 632.0,320.5 631.3,325.0 629.0,328.8 626.0,328.0 621.5,327.3 617.8,325.8 615.5,320.5 614.8,316.8Z" fill="#92c5de"/>
<g clip-path="url(#c4)"><path d="M610.0,310.0 620.0,305.0 631.3,296.0 640.0,300.0 637.3,304.8 635.0,307.8 631.3,307.8 627.5,313.8 621.5,315.3 617.8,316.8 612.0,318.0Z" fill="#f4a582" class="bd"/></g>
<path d="M615.5,314.5 620.0,311.5 624.5,309.3 627.5,305.5 631.3,301.0 633.5,301.8 637.3,304.8 635.0,307.8 634.3,311.5 636.5,316.0 633.5,317.5 632.0,320.5 631.3,325.0 629.0,328.8 626.0,328.0 621.5,327.3 617.8,325.8 615.5,320.5 614.8,316.8Z" fill="none" class="cs"/>
<clipPath id="c5"><path d="M665.0,321.4 670.6,322.1 669.2,325.6 676.2,325.6 681.9,323.5 687.5,325.6 696.0,331.3 701.7,335.5 700.2,338.4 708.7,346.1 701.7,344.7 693.2,342.6 687.5,341.9 681.9,340.5 679.1,338.4 681.9,335.5 674.8,329.9 669.2,327.1Z"/></clipPath>
<path d="M665.0,321.4 670.6,322.1 669.2,325.6 676.2,325.6 681.9,323.5 687.5,325.6 696.0,331.3 701.7,335.5 700.2,338.4 708.7,346.1 701.7,344.7 693.2,342.6 687.5,341.9 681.9,340.5 679.1,338.4 681.9,335.5 674.8,329.9 669.2,327.1Z" fill="#92c5de"/>
<g clip-path="url(#c5)"><path d="M687.5,325.0 687.5,342.5" fill="none" class="bd"/></g>
<path d="M665.0,321.4 670.6,322.1 669.2,325.6 676.2,325.6 681.9,323.5 687.5,325.6 696.0,331.3 701.7,335.5 700.2,338.4 708.7,346.1 701.7,344.7 693.2,342.6 687.5,341.9 681.9,340.5 679.1,338.4 681.9,335.5 674.8,329.9 669.2,327.1Z" fill="none" class="cs"/>
<path d="M254.5,124.8 264.4,122.4 277.6,117.4 297.4,117.4 313.8,115.8 330.3,116.6 345.1,118.2 335.2,120.7 333.6,126.5 330.3,133.1 323.7,141.3 313.8,142.9 304.0,146.2 294.1,151.2 287.5,157.8 282.5,164.4 275.9,162.7 271.0,152.8 271.0,146.2 275.9,139.6 271.0,133.1 269.4,128.1 257.8,126.5Z" fill="#f4a582" class="cs"/>
<path d="M322.1,150.4 330.3,149.5 337.7,149.5 338.5,152.8 332.0,155.3 323.7,154.5Z" fill="#f4a582" class="cs"/>
<path d="M159.1,137.6 167.6,132.4 178.9,132.9 177.0,134.8 169.5,135.7 163.8,138.5Z" fill="#f4a582" class="cs"/>
<path d="M168.5,136.6 177.9,138.5 187.4,134.8 195.8,133.8 193.9,138.5 194.9,142.3 187.4,143.2 177.9,143.2 169.5,142.3Z" fill="#f4a582" class="cs"/>
<path d="M175.1,128.2 189.2,125.4 184.5,128.2Z" fill="#f4a582" class="cs"/>
<path d="M182.6,130.1 199.6,128.2 197.7,131.0 185.5,131.0Z" fill="#f4a582" class="cs"/>
<path d="M193.9,124.4 201.5,123.5 198.6,125.4Z" fill="#f4a582" class="cs"/>
<path d="M208.1,123.5 215.6,123.0 212.8,124.4Z" fill="#f4a582" class="cs"/>
<path d="M205.2,129.1 212.8,127.7 210.9,130.1Z" fill="#f4a582" class="cs"/>
<path d="M198.6,135.7 206.2,133.8 204.3,137.6 200.5,137.6Z" fill="#f4a582" class="cs"/>
<path d="M210.0,133.8 216.5,132.9 212.8,136.6Z" fill="#f4a582" class="cs"/>
<path d="M224.9,120.7 236.4,117.4 256.2,116.3 275.9,116.6 264.4,120.7 252.9,124.8 239.7,127.3 226.5,124.8Z" fill="#f4a582" class="cs"/>
<path d="M216.6,131.4 224.9,129.8 238.1,130.6 231.5,132.2 220.0,133.1Z" fill="#f4a582" class="cs"/>
<path d="M218.3,134.7 228.2,133.9 238.1,135.5 248.0,139.6 249.6,144.6 256.2,148.7 251.2,151.2 244.6,152.0 248.0,156.1 241.4,157.8 234.8,152.8 226.5,151.2 233.1,147.9 239.7,145.4 229.8,142.9 218.3,141.3Z" fill="#f4a582" class="cs"/>
<path d="M209.2,154.4 216.2,151.5 220.5,154.4 213.4,157.2Z" fill="#f4a582" class="cs"/>
<path d="M242.0,195.0 248.0,192.0 251.0,188.0 254.0,189.0 255.0,193.0 254.0,197.0 250.0,196.0 248.0,194.0Z" fill="#f4a582" class="cs"/>
<path d="M2.0,261.0 3.2,261.2 2.8,262.0Z" fill="#f4a582" class="cs"/>
<path d="M5.0,262.5 7.0,263.2 6.5,264.0Z" fill="#f4a582" class="cs"/>
<path d="M7.8,264.0 9.2,264.6 8.5,265.3Z" fill="#f4a582" class="cs"/>
<path d="M9.5,266.0 11.7,267.0 11.0,269.2 9.5,269.0Z" fill="#f4a582" class="cs"/>
<path d="M171.3,260.9 176.8,258.7 183.4,260.4 190.0,264.2 194.4,266.4 188.9,266.4 183.4,263.1 176.8,261.5Z" fill="#92c5de" class="cs"/>
<path d="M196.6,267.5 201.0,267.0 207.6,269.7 203.2,271.4 199.9,271.9 194.4,271.4Z" fill="#92c5de" class="cs"/>
<path d="M185.6,271.4 190.0,271.9 187.8,272.8Z" fill="#92c5de" class="cs"/>
<path d="M186.7,248.8 190.0,249.9 188.5,251.0Z" fill="#f4a582" class="cs"/>
<path d="M187.8,253.2 189.0,253.5 188.4,256.5Z" fill="#f4a582" class="cs"/>
<path d="M221.0,290.5 223.5,290.5 223.0,292.5 221.0,292.5Z" fill="#f4a582" class="cs"/>
<path d="M352.5,167.7 357.0,167.0 359.2,170.0 357.0,174.5 360.0,176.7 362.2,180.5 366.0,182.7 365.2,185.0 362.2,186.5 355.5,188.0 351.7,188.7 356.2,184.2 356.2,180.5 354.0,177.5 352.5,173.0Z" fill="#92c5de" class="cs"/>
<path d="M344.2,180.5 348.7,176.0 351.0,176.7 351.0,180.5 348.7,183.5 345.0,184.2Z" fill="#f4a582" class="cs"/>
<path d="M348.7,176.0 351.0,176.7 351.5,178.5 349.0,178.5Z" fill="#92c5de" class="cs"/>
<path d="M384.0,174.3 386.5,174.0 387.3,176.5 384.5,177.0Z" fill="#f4a582" class="cs"/>
<path d="M47.5,152.4 60.2,143.9 63.4,147.6 67.6,148.6 66.6,150.8 59.2,153.4 53.9,151.8Z" fill="#f4a582" class="cs"/>
<path d="M67.6,138.6 73.0,139.1 69.0,139.8Z" fill="#f4a582" class="cs"/>
<path d="M106.7,187.3 110.0,188.0 112.0,192.0 111.3,193.3 108.7,190.7Z" fill="#f4a582" class="cs"/>
<path d="M103.3,179.3 106.0,178.7 104.0,182.7Z" fill="#f4a582" class="cs"/>
<path d="M70.8,169.3 76.1,170.4 73.0,171.4Z" fill="#f4a582" class="cs"/>
<path d="M377.8,121.2 387.9,120.0 401.3,120.7 394.6,123.4 399.0,125.6 392.4,126.1 385.6,124.5Z" fill="#f4a582" class="cs"/>
<path d="M426.6,119.5 434.9,119.8 431.0,121.0Z" fill="#f4a582" class="cs"/>
<path d="M448.2,137.9 447.1,133.5 450.5,131.2 457.2,128.3 466.1,127.0 463.9,129.7 456.0,132.4 452.7,135.7 454.9,138.6 457.2,139.7 450.5,139.7Z" fill="#f4a582" class="cs"/>
<path d="M494.3,119.5 507.5,122.4 502.0,123.0Z" fill="#f4a582" class="cs"/>
<path d="M510.0,122.5 517.4,124.0 512.0,124.5Z" fill="#f4a582" class="cs"/>
<path d="M573.2,128.3 586.4,129.9 578.0,130.0Z" fill="#f4a582" class="cs"/>
<path d="M380.5,212.1 383.2,212.1 383.2,216.8 381.1,217.4Z" fill="#f4a582" class="cs"/>
<path d="M381.6,207.3 382.7,207.8 382.7,210.5 381.6,210.5Z" fill="#92c5de" class="cs"/>
<path d="M390.1,219.5 395.4,220.5 394.3,222.6 391.1,221.6Z" fill="#f4a582" class="cs"/>
<path d="M414.1,225.8 419.8,226.7 416.0,227.2Z" fill="#f4a582" class="cs"/>
<path d="M433.9,225.8 438.6,225.3 437.2,227.6 434.8,228.1Z" fill="#f4a582" class="cs"/>
<path d="M656.3,201.0 660.0,203.3 664.5,204.0 666.0,205.5 663.0,207.8 660.0,209.3 657.0,207.8Z" fill="#f4a582" class="cs"/>
<path d="M660.0,211.5 663.0,214.5 664.5,219.0 666.8,223.5 667.5,226.5 664.5,229.5 660.0,229.5 656.3,228.0 652.5,228.0 649.5,229.5 648.0,231.8 651.0,231.0 657.0,225.0 658.5,221.3 660.8,217.5 659.3,213.8Z" fill="#f4a582" class="cs"/>
<path d="M646.5,232.5 649.5,231.8 651.0,235.5 649.5,237.8 648.0,235.5Z" fill="#f4a582" class="cs"/>
<path d="M652.5,231.0 657.0,230.3 655.5,232.5Z" fill="#f4a582" class="cs"/>
<path d="M640.0,177.5 646.0,183.5 652.5,190.0 657.5,198.5 654.0,198.5 648.0,190.5 641.5,183.5Z" fill="#f4a582" class="cs"/>
<path d="M635.2,253.4 636.5,256.0 636.0,260.8 634.0,259.0 633.6,256.0Z" fill="#f4a582" class="cs"/>
<path d="M610.0,266.5 614.0,266.0 614.5,268.5 612.0,271.0 610.0,270.0Z" fill="#f4a582" class="cs"/>
<path d="M546.6,294.9 548.9,293.5 551.2,299.5 548.9,303.1 546.6,300.4Z" fill="#92c5de" class="cs"/>
<path d="M582.5,304.8 587.8,305.5 591.5,310.0 596.0,313.0 601.3,318.3 603.5,323.5 607.3,326.5 606.5,334.0 605.0,334.0 599.8,329.5 594.5,323.5 590.8,316.0 587.0,310.8 582.5,306.3Z" fill="#92c5de" class="cs"/>
<path d="M605.6,334.1 614.1,336.2 621.2,337.6 628.2,340.5 625.4,341.9 616.9,339.8 608.5,337.6Z" fill="#92c5de" class="cs"/>
<path d="M631.1,341.2 636.7,340.5 633.9,342.6Z" fill="#92c5de" class="cs"/>
<path d="M638.1,341.2 645.2,340.5 642.4,342.6Z" fill="#92c5de" class="cs"/>
<path d="M646.6,345.4 655.1,341.2 649.4,344.0Z" fill="#92c5de" class="cs"/>
<path d="M653.6,327.0 663.5,326.4 662.1,328.5Z" fill="#92c5de" class="cs"/>
<path d="M641.0,316.0 651.5,315.3 650.0,317.5 643.3,319.0 641.8,322.0 647.0,321.3 644.0,324.3 644.8,329.5 646.3,333.3 643.3,332.5 641.8,326.5 639.5,329.5 638.0,328.0 638.8,320.5Z" fill="#92c5de" class="cs"/>
<path d="M657.5,313.8 659.0,316.0 659.0,319.0 657.8,317.0Z" fill="#92c5de" class="cs"/>
<path d="M637.3,270.3 641.0,271.8 641.8,276.3 640.3,280.8 644.0,282.3 647.0,284.5 650.0,287.5 650.0,290.5 648.5,289.8 646.3,286.0 642.5,284.5 639.5,283.0 636.5,277.0Z" fill="#92c5de" class="cs"/>
<path d="M638.8,283.8 641.0,286.0 639.5,286.5Z" fill="#92c5de" class="cs"/>
<path d="M642.5,288.3 645.5,290.5 646.3,294.3 644.0,292.0Z" fill="#92c5de" class="cs"/>
<path d="M644.0,299.5 648.5,296.5 652.3,294.3 653.8,297.3 653.0,302.5 650.8,304.0 649.3,300.3 645.5,300.3Z" fill="#92c5de" class="cs"/>
<path d="M632.8,296.5 637.3,289.8 636.5,291.0Z" fill="#92c5de" class="cs"/>
<path d="M704.5,334.1 713.0,331.3 711.5,325.6 715.8,329.9 710.1,334.8Z" fill="#92c5de" class="cs"/>
<path d="M719.0,333.0 722.0,335.0 721.0,336.0Z" fill="#92c5de" class="cs"/>
<path d="M724.0,338.0 728.0,341.0 727.0,342.0Z" fill="#92c5de" class="cs"/>
<path d="M730.0,343.0 734.0,346.0 733.0,347.0Z" fill="#92c5de" class="cs"/>
<path d="M744.0,357.7 745.7,361.8 744.5,361.0Z" fill="#92c5de" class="cs"/>
<path d="M767.0,366.0 770.0,364.5 769.0,367.0Z" fill="#92c5de" class="cs"/>
<path d="M771.0,362.5 774.0,361.0 773.0,363.0Z" fill="#92c5de" class="cs"/>
<path d="M501.5,447.5 502.5,445.5 504.0,447.0 502.5,448.5Z" fill="#f2f2f2" class="cs"/>
<path d="M475.8,350.8 477.5,356.7 476.7,361.7 473.3,370.0 470.0,380.0 465.8,385.8 461.7,383.3 460.8,376.7 463.3,368.3 464.2,361.7 470.0,359.2 473.3,355.0Z" fill="#92c5de" class="cs"/>
<path d="M667.8,426.6 676.2,425.6 674.4,429.4 670.6,432.2 667.8,432.2Z" fill="#f4a582" class="cs"/>
<path d="M739.3,409.6 741.2,415.3 745.9,417.2 743.0,420.0 739.3,422.8 733.6,427.5 731.8,424.7 737.4,421.0 738.4,415.3Z" fill="#f4a582" class="cs"/>
<path d="M729.9,425.6 731.8,428.5 724.2,432.2 716.7,436.0 709.2,439.8 706.4,438.8 708.2,436.0 718.6,431.3 726.1,426.6Z" fill="#f4a582" class="cs"/>
<path d="M734.0,371.6 740.2,376.1 738.9,377.3 733.6,373.5Z" fill="#f4a582" class="cs"/>
<path d="M210.0,270.5 214.5,270.8 214.0,272.5 210.5,272.2Z" fill="#e8e8e8" class="cs"/>
<path d="M304.9,274.5 305.5,273.9 306.1,274.5 305.5,275.1Z" fill="#92c5de" class="cs"/>
<path d="M307.4,275.5 308.0,274.9 308.6,275.5 308.0,276.1Z" fill="#92c5de" class="cs"/>
<path d="M309.9,276.5 310.5,275.9 311.1,276.5 310.5,277.1Z" fill="#92c5de" class="cs"/>
<path d="M306.9,279.5 307.5,278.9 308.1,279.5 307.5,280.1Z" fill="#92c5de" class="cs"/>
<path d="M308.9,279.0 309.5,278.4 310.1,279.0 309.5,279.6Z" fill="#92c5de" class="cs"/>
<path d="M461.9,349.2 462.5,348.6 463.1,349.2 462.5,349.8Z" fill="#92c5de" class="cs"/>
<path d="M463.7,350.8 464.2,350.3 464.7,350.8 464.2,351.3Z" fill="#92c5de" class="cs"/>
<path d="M490.3,330.8 490.8,330.3 491.3,330.8 490.8,331.3Z" fill="#92c5de" class="cs"/>
<path d="M532.0,308.5 532.5,308.0 533.0,308.5 532.5,309.0Z" fill="#92c5de" class="cs"/>
<path d="M532.0,310.5 532.5,310.0 533.0,310.5 532.5,311.0Z" fill="#92c5de" class="cs"/>
<path d="M492.6,371.7 493.3,371.0 494.0,371.7 493.3,372.4Z" fill="#92c5de" class="cs"/>
<path d="M711.6,299.0 712.0,298.6 712.4,299.0 712.0,299.4Z" fill="#92c5de" class="cs"/>
<path d="M726.6,301.0 727.0,300.6 727.4,301.0 727.0,301.4Z" fill="#92c5de" class="cs"/>
<path d="M737.6,305.0 738.0,304.6 738.4,305.0 738.0,305.4Z" fill="#92c5de" class="cs"/>
<path d="M756.6,300.0 757.0,299.6 757.4,300.0 757.0,300.4Z" fill="#92c5de" class="cs"/>
<path d="M752.6,303.0 753.0,302.6 753.4,303.0 753.0,303.4Z" fill="#92c5de" class="cs"/>
<path d="M747.6,320.0 748.0,319.6 748.4,320.0 748.0,320.4Z" fill="#92c5de" class="cs"/>
<path d="M767.6,333.0 768.0,332.6 768.4,333.0 768.0,333.4Z" fill="#92c5de" class="cs"/>
<path d="M773.5,340.0 774.0,339.5 774.5,340.0 774.0,340.5Z" fill="#92c5de" class="cs"/>
<path d="M775.6,343.0 776.0,342.6 776.4,343.0 776.0,343.4Z" fill="#92c5de" class="cs"/>
<path d="M767.6,351.0 768.0,350.6 768.4,351.0 768.0,351.4Z" fill="#92c5de" class="cs"/>
<path d="M219.4,274.0 220.0,273.4 220.6,274.0 220.0,274.6Z" fill="#f4a582" class="cs"/>
<path d="M221.7,274.0 222.3,273.4 222.9,274.0 222.3,274.6Z" fill="#f4a582" class="cs"/>
<path d="M221.8,278.5 222.5,277.8 223.2,278.5 222.5,279.2Z" fill="#92c5de" class="cs"/>
<path d="M222.8,282.5 223.5,281.8 224.2,282.5 223.5,283.2Z" fill="#92c5de" class="cs"/>
<path d="M221.8,284.5 222.5,283.8 223.2,284.5 222.5,285.2Z" fill="#92c5de" class="cs"/>
<path d="M225.9,284.5 226.5,283.9 227.1,284.5 226.5,285.1Z" fill="#f4a582" class="cs"/>
<path d="M220.8,287.5 221.5,286.8 222.2,287.5 221.5,288.2Z" fill="#92c5de" class="cs"/>
<path d="M421.9,207.1 423.0,202.3 425.7,199.1 427.3,198.0 429.9,199.1 431.0,199.6 430.5,200.7 433.1,202.8 435.8,201.7 438.5,201.2 442.7,203.9 447.0,206.0 449.7,208.7 449.1,211.3 444.9,211.9 440.6,210.3 436.3,209.5 431.0,209.7 427.3,211.3 423.5,211.3 421.9,209.7Z" fill="#fff" class="cs"/>
<path d="M435.3,198.5 438.5,197.5 440.6,198.0 440.6,200.1 437.4,200.1Z" fill="#fff" class="cs"/>
<path d="M460.0,202.6 462.7,199.4 465.9,197.3 470.1,197.3 472.3,198.9 471.7,200.5 469.6,201.0 467.5,202.6 468.0,204.2 471.2,206.3 473.9,209.0 474.9,211.7 476.0,214.3 477.1,217.0 478.1,220.2 476.5,222.9 472.3,222.9 468.5,219.7 468.0,215.9 469.1,213.3 466.9,210.1 464.3,207.4 462.1,205.3Z" fill="#fff" class="cs"/>
<!--/MAP-->
</g>
<!-- legend -->
<rect x="267.5" y="517" width="48" height="11" fill="url(#hatch)" stroke="#cfcfcf" stroke-width="1"/>
<path d="M291.5,514V517M397,514V517M520,514V517" stroke="#aaa" stroke-width="0.8"/>
<rect x="335.5" y="517" width="123" height="11" fill="#92c5de" stroke="#8aa9b8" stroke-width="1"/>
<rect x="458.5" y="517" width="123" height="11" fill="#f4a582" stroke="#b89080" stroke-width="1"/>
</svg>
<div class="t leg" style="left:268px;top:498px">No data</div>
<div class="t leg" style="left:339px;top:498px">Below global equity</div>
<div class="t leg" style="left:461px;top:498px">Above global equity</div>
<div class="t foot" style="left:16px;top:549.5px"><b>Data source:</b> Global Carbon Budget (2025); Population based on various sources (2024)</div>
<div class="t foot" style="left:16px;top:569.5px;letter-spacing:0.1px">OurWorldinData.org/co2-and-greenhouse-gas-emissions | CC BY</div>
</body></html>
